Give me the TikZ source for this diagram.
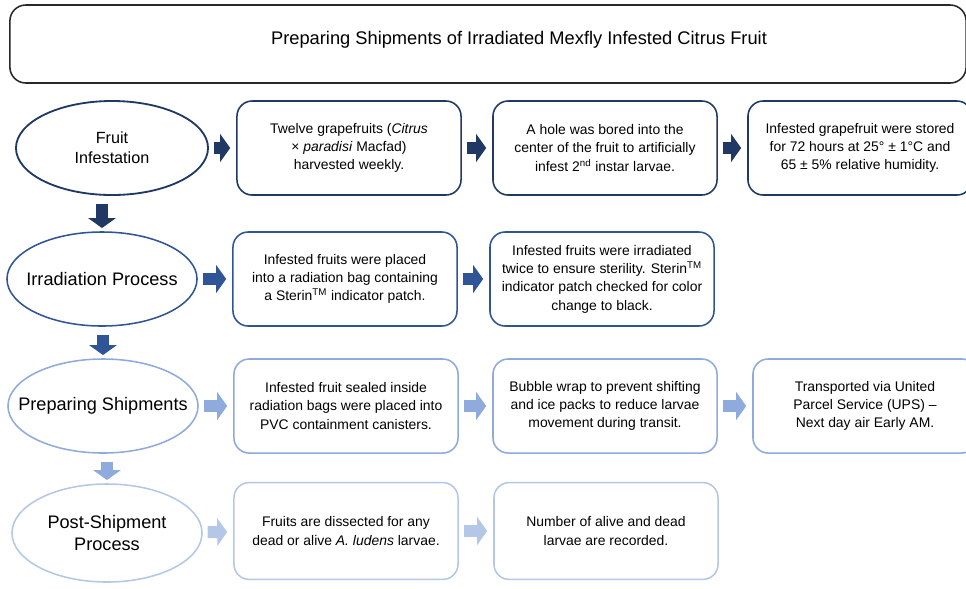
\documentclass[tikz,border=0pt]{standalone}
\usepackage{fontspec}
\setmainfont{Liberation Sans}
\usetikzlibrary{arrows.meta,shapes,positioning}
\definecolor{mfnavy}{RGB}{31,56,100}
\definecolor{mfblue}{RGB}{47,85,151}
\definecolor{mflightblue}{RGB}{143,170,220}
\definecolor{mfpaleblue}{RGB}{180,199,231}
\definecolor{mfgrey}{RGB}{40,40,40}
\tikzstyle{blockarrow} = [line width=0.3cm,-{Triangle[length=0.25cm,width=0.7cm,line width=0pt]}]
\tikzstyle{rarrow} = [blockarrow,shorten <=0.12cm,shorten >=0.15cm]
\tikzstyle{darrow} = [blockarrow,shorten <=0.2cm,shorten >=0.08cm]

\begin{document}
\begin{tikzpicture}[x=0.025cm, y=-0.025cm,
    stage/.style={ellipse, draw, line width=1.1pt, minimum width=4.75cm, minimum height=2.35cm, inner sep=0pt, inner xsep=-1.3cm, align=center, font=\fontsize{12.9}{15.5}\selectfont},
    stepbox/.style={rectangle, rounded corners=0.38cm, draw, line width=1.1pt, minimum width=5.6cm, minimum height=2.35cm, align=center, font=\fontsize{9.9}{13}\selectfont}]

\useasboundingbox (0,0) rectangle (966,588);

% Title
\node[rectangle, rounded corners=0.4cm, draw=mfgrey, line width=1.1pt, minimum width=23.9cm, minimum height=1.95cm] (titlebox) at (488,44) {};
\node[font=\fontsize{13}{15}\selectfont] (title) at (519,40) {Preparing Shipments of Irradiated Mexfly Infested Citrus Fruit};

% Fruit infestation
\node[stage, draw=mfnavy, line width=1.3pt, minimum width=4.8cm, font=\fontsize{11.5}{14}\selectfont] (fruit) at (112,148) {Fruit\\Infestation};
\node[stepbox, draw=mfnavy] (grape) at (349,148) {Twelve grapefruits (\textit{Citrus}\\× \textit{paradisi} Macfad)\\harvested weekly.};
\node[stepbox, draw=mfnavy] (bore) at (605,148) {A hole was bored into the\\center of the fruit to artificially\\infest 2\textsuperscript{nd} instar larvae.};
\node[stepbox, draw=mfnavy] (store) at (860,148) {Infested grapefruit were stored\\for 72 hours at 25° ± 1°C and\\65 ± 5\% relative humidity.};

% Irradiation
\node[stage, draw=mfblue] (irrad) at (102,279) {Irradiation Process};
\node[stepbox, draw=mfblue] (bag) at (345,279) {Infested fruits were placed\\into a radiation bag containing\\a Sterin\textsuperscript{TM} indicator patch.};
\node[stepbox, draw=mfblue] (twice) at (602,279) {Infested fruits were irradiated\\twice to ensure sterility. Sterin\textsuperscript{TM}\\indicator patch checked for color\\change to black.};

% Shipments
\node[stage, draw=mflightblue] (ship) at (103,406) {Preparing Shipments};
\node[stepbox, draw=mflightblue] (seal) at (346,406) {Infested fruit sealed inside\\radiation bags were placed into\\PVC containment canisters.};
\node[stepbox, draw=mflightblue] (wrap) at (605,406) {Bubble wrap to prevent shifting\\and ice packs to reduce larvae\\movement during transit.};
\node[stepbox, draw=mflightblue] (ups) at (865,406) {Transported via United\\Parcel Service (UPS) –\\Next day air Early AM.};

% Post-shipment
\node[stage, draw=mfpaleblue, minimum height=2.45cm] (post) at (107,533) {Post-Shipment\\Process};
\node[stepbox, draw=mfpaleblue, minimum height=2.42cm] (dissect) at (346,531) {Fruits are dissected for any\\dead or alive \textit{A. ludens} larvae.};
\node[stepbox, draw=mfpaleblue, minimum height=2.42cm] (count) at (606,531) {Number of alive and dead\\larvae are recorded.};

% Arrows
\draw[rarrow, mfnavy] (fruit) -- (grape);
\draw[rarrow, mfnavy] (grape) -- (bore);
\draw[rarrow, mfnavy] (bore) -- (store);
\draw[rarrow, mfblue] (irrad) -- (bag);
\draw[rarrow, mfblue] (bag) -- (twice);
\draw[rarrow, mflightblue] (ship) -- (seal);
\draw[rarrow, mflightblue] (seal) -- (wrap);
\draw[rarrow, mflightblue] (wrap) -- (ups);
\draw[rarrow, mfpaleblue] (post) -- (dissect);
\draw[rarrow, mfpaleblue] (dissect) -- (count);

\draw[darrow, mfnavy] (fruit.south -| irrad.north) -- (irrad.north);
\draw[darrow, mfblue] (irrad.south -| ship.north) -- (ship.north);
\draw[darrow, mflightblue] (ship.south -| post.north) -- (post.north);

\end{tikzpicture}
\end{document}
